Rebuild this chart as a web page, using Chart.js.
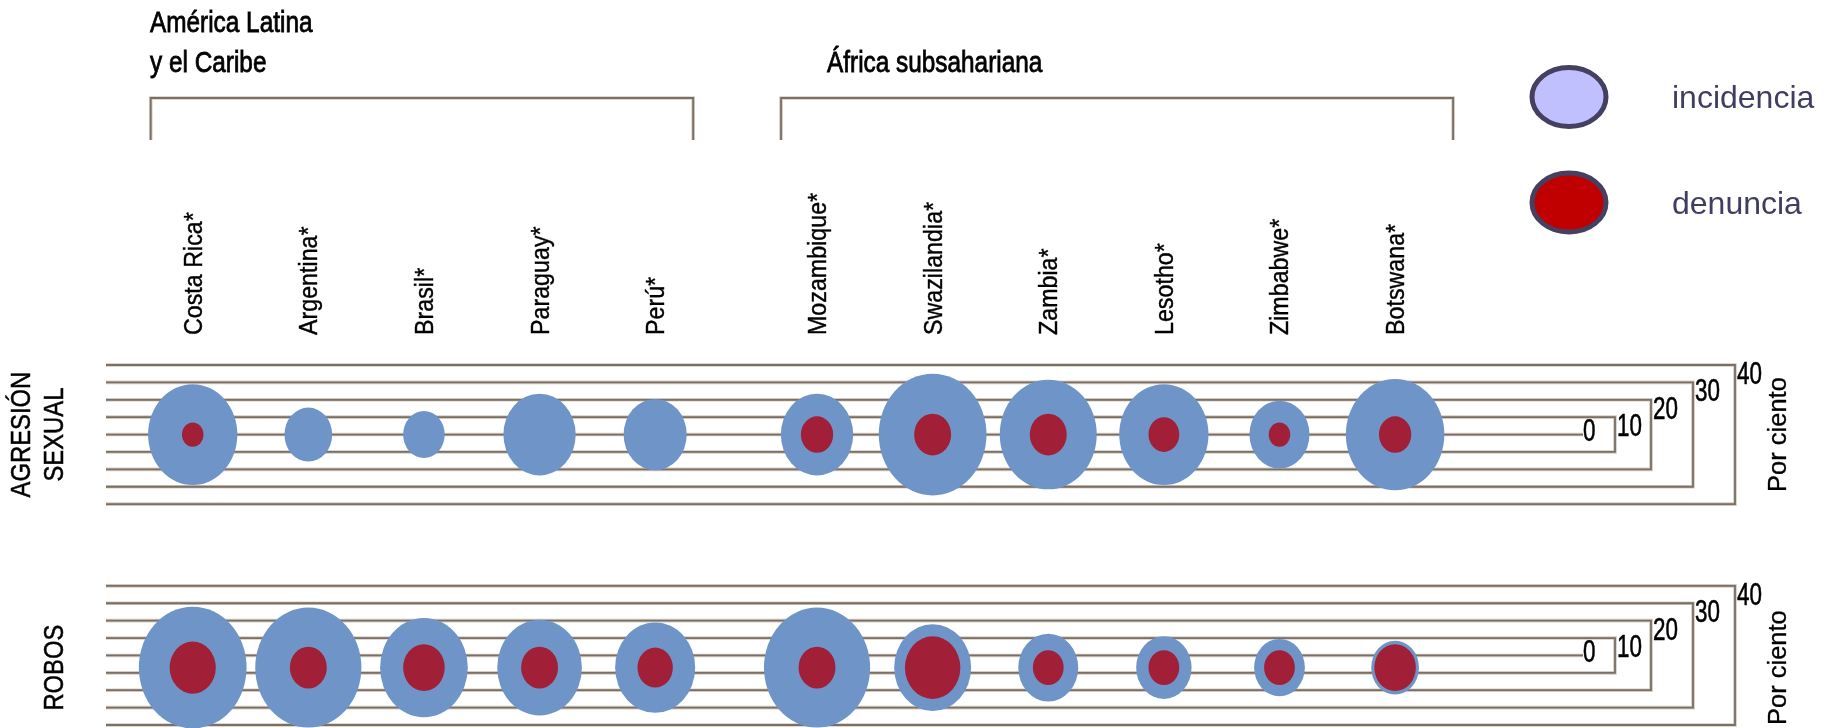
<!DOCTYPE html>
<html>
<head>
<meta charset="utf-8">
<style>
  html, body { margin: 0; padding: 0; background: #fff; }
  #wrap { position: relative; width: 1825px; height: 728px; }
</style>
<script src="https://cdn.jsdelivr.net/npm/chart.js@4.4.1/dist/chart.umd.min.js"></script>
</head>
<body>
<div id="wrap"><canvas id="burbujas" width="1825" height="728"></canvas></div>
<script>
// datos (por ciento)
const countries = ['Costa Rica*', 'Argentina*', 'Brasil*', 'Paraguay*', 'Perú*',
  'Mozambique*', 'Swazilandia*', 'Zambia*', 'Lesotho*', 'Zimbabwe*', 'Botswana*'];
const regionOf = [0, 0, 0, 0, 0, 1, 1, 1, 1, 1, 1];
const regionNames = [['América Latina', 'y el Caribe'], ['África subsahariana']];
const rowNames = [['AGRESIÓN', 'SEXUAL'], ['ROBOS']];

const agresionIncidencia = [29, 15.5, 13.5, 23.5, 20.5, 23.5, 35, 31.5, 29, 19.5, 32];
const agresionDenuncia = [7, null, null, null, null, 10.5, 12, 12, 10, 7, 10.5];
const robosIncidencia = [35, 34.5, 28.5, 27.5, 26, 34.5, 25, 19.5, 18, 16.5, 15.5];
const robosDenuncia = [15, 12, 13.5, 12, 11.5, 12, 18, 10, 10, 10, 13.5];

const scaleTicks = [0, 10, 20, 30, 40];
const axisTitle = 'Por ciento';

// disposicion
const rows = [{ base: 0, shift: 0 }, { base: -127, shift: -7 }];
const regionGap = 0.4;
const bracketInset = [152, 120, 84, 42, 0];
const bracketPad = [[42, 38], [36, 58]];
const headerX = [150, 827];
const FONT = "'Liberation Sans', Arial, sans-serif";

function xPos(i) {
  return i + regionOf[i] * regionGap;
}

function points(series) {
  const out = [];
  rows.forEach((row, r) => {
    series[r].forEach((v, i) => {
      if (v == null) return;
      out.push({ x: xPos(i), y: row.base + row.shift, v: v });
    });
  });
  return out;
}

function rule(ctx, pts) {
  [[3.6, '#d2cbc3'], [1.8, '#7b6e62']].forEach(function (s) {
    ctx.beginPath();
    pts.forEach(function (p, i) { i ? ctx.lineTo(p[0], p[1]) : ctx.moveTo(p[0], p[1]); });
    ctx.lineWidth = s[0];
    ctx.strokeStyle = s[1];
    ctx.lineJoin = 'miter';
    ctx.stroke();
  });
}

// texto; "heavy" engrosa un poco el trazo para imitar la fuente condensada
function text(ctx, s, x, y, size, opt) {
  opt = opt || {};
  ctx.save();
  ctx.translate(x, y);
  if (opt.rotate) ctx.rotate(opt.rotate);
  ctx.scale(opt.sx || 1, 1);
  ctx.font = size + 'px ' + FONT;
  ctx.fillStyle = opt.color || '#000';
  ctx.textAlign = opt.align || 'left';
  ctx.textBaseline = 'alphabetic';
  ctx.fillText(s, 0, 0);
  if (opt.heavy) {
    ctx.lineWidth = opt.heavy;
    ctx.strokeStyle = opt.color || '#000';
    ctx.strokeText(s, 0, 0);
  }
  ctx.restore();
}

const decor = {
  id: 'decor',
  beforeDatasetsDraw(chart) {
    const { ctx, chartArea: a, scales: { y } } = chart;
    ctx.save();
    rows.forEach(function (row) {
      scaleTicks.forEach(function (t, k) {
        const right = a.right - bracketInset[k];
        const yt = y.getPixelForValue(row.base + t);
        const yb = y.getPixelForValue(row.base - t);
        if (t === 0) {
          rule(ctx, [[a.left, yt], [right, yt]]);
          text(ctx, String(t), right, yt + 6.5, 32, { sx: 0.7, heavy: 0.6 });
        } else {
          rule(ctx, [[a.left, yt], [right, yt], [right, yb], [a.left, yb]]);
          text(ctx, String(t), right + 2, yt + 19, 32, { sx: 0.7, heavy: 0.6 });
        }
      });
    });
    ctx.restore();
  },
  beforeDatasetDraw(chart, args) {
    const { ctx, scales: { y } } = chart;
    const ds = chart.data.datasets[args.index];
    ctx.save();
    ctx.fillStyle = ds.backgroundColor;
    args.meta.data.forEach(function (el, j) {
      const v = ds.data[j].v;
      const ry = Math.abs(y.getPixelForValue(0) - y.getPixelForValue(v));
      ctx.beginPath();
      ctx.ellipse(el.x, el.y, ry / 1.13, ry, 0, 0, Math.PI * 2);
      ctx.fill();
    });
    ctx.restore();
    return false;
  },
  afterDraw(chart) {
    const { ctx, scales: { x, y } } = chart;
    ctx.save();

    // encabezados de region con corchete
    regionNames.forEach(function (lines, g) {
      const idx = regionOf.map(function (r, i) { return r === g ? i : -1; }).filter(function (i) { return i >= 0; });
      const left = x.getPixelForValue(xPos(idx[0])) - bracketPad[g][0];
      const right = x.getPixelForValue(xPos(idx[idx.length - 1])) + bracketPad[g][1];
      rule(ctx, [[left, 140], [left, 98], [right, 98], [right, 140]]);
      lines.forEach(function (s, k) {
        const base = 72 - (lines.length - 1 - k) * 40;
        text(ctx, s, headerX[g], base, 29, { sx: 0.84, heavy: 0.8 });
      });
    });

    // nombres de paises
    countries.forEach(function (c, i) {
      const px = x.getPixelForValue(xPos(i));
      text(ctx, c, px + 9, 335, 25, { rotate: -Math.PI / 2, sx: 0.93, heavy: 0.4 });
    });

    // rotulos de filas y eje
    rows.forEach(function (row, r) {
      const cy = y.getPixelForValue(row.base + row.shift);
      const lines = rowNames[r];
      lines.forEach(function (s, k) {
        const bx = 63 - (lines.length - 1 - k) * 33;
        text(ctx, s, bx, cy, 28, { rotate: -Math.PI / 2, align: 'center', sx: 0.85, heavy: 0.5 });
      });
      text(ctx, axisTitle, 1786, cy, 25.5, { rotate: -Math.PI / 2, align: 'center', heavy: 0.3 });
    });

    // leyenda
    chart.data.datasets.forEach(function (ds, k) {
      const cy = 97 + k * 105.5;
      ctx.beginPath();
      ctx.ellipse(1569, cy, 37, 29.5, 0, 0, Math.PI * 2);
      ctx.fillStyle = ds.legendColor;
      ctx.fill();
      ctx.lineWidth = 5;
      ctx.strokeStyle = '#454060';
      ctx.stroke();
      text(ctx, ds.label, 1672, cy + 11, 32, { color: '#403d62' });
    });
    ctx.restore();
  }
};

const chart = new Chart(document.getElementById('burbujas'), {
  type: 'scatter',
  data: {
    datasets: [
      {
        label: 'incidencia',
        data: points([agresionIncidencia, robosIncidencia]),
        backgroundColor: '#6f95c8',
        legendColor: '#c0c0ff',
        pointRadius: 0,
        order: 2
      },
      {
        label: 'denuncia',
        data: points([agresionDenuncia, robosDenuncia]),
        backgroundColor: '#a11f37',
        legendColor: '#c00000',
        pointRadius: 0,
        order: 1
      }
    ]
  },
  options: {
    responsive: false,
    animation: false,
    events: [],
    layout: { padding: { top: 365, bottom: 3, left: 106, right: 90 } },
    scales: {
      x: { type: 'linear', display: false, min: -0.75, max: 13.34 },
      y: { type: 'linear', display: false, min: -167, max: 40 }
    },
    plugins: {
      legend: { display: false },
      tooltip: { enabled: false }
    }
  },
  plugins: [decor]
});
</script>
</body>
</html>
